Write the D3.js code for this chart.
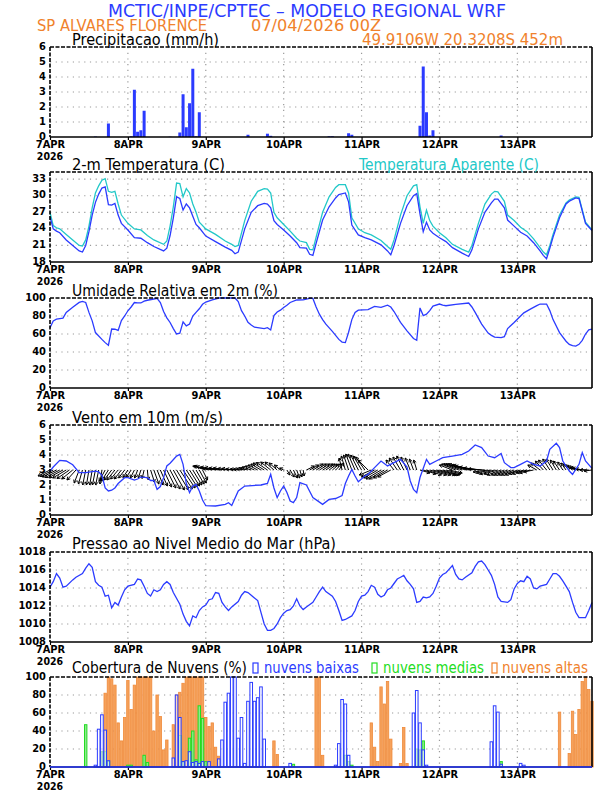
<!DOCTYPE html>
<html>
<head>
<meta charset="utf-8">
<script src="https://cdnjs.cloudflare.com/ajax/libs/d3/7.8.5/d3.min.js"></script>
<style>
body { margin: 0; background: #fff; }
svg text { font-family: "DejaVu Sans", sans-serif; }
.tick text { font-family: "DejaVu Sans Condensed", "DejaVu Sans", sans-serif; font-weight: bold; font-size: 11px; fill: #000; }
</style>
</head>
<body>
<script>
var width = 612;
var height = 792;

// ---- data (hours since 07APR2026 00Z) ----
var dayLabels = ["7APR", "8APR", "9APR", "10APR", "11APR", "12APR", "13APR"];
var dayHours = [0, 24, 48, 72, 96, 120, 144];
var yearLabel = "2026";

var precip = [[14,0.03],[18,0.9],[25,0.05],[26,3.15],[27,0.35],[28,0.45],[29,1.75],[37,0.02],[40,0.3],[41,2.85],[42,0.65],[43,2.25],[44,4.55],[45,0.05],[46,1.65],[61,0.15],[67,0.22],[68,0.08],[86,0.05],[87,0.05],[92,0.25],[93,0.15],[114,0.75],[115,4.7],[116,1.65],[117,0.1],[118,0.45],[139,0.1]];
var precipTicks = [0, 1, 2, 3, 4, 5, 6];

var temp2m = [[0,26.2],[1,24.0],[2,23.6],[3,23.3],[5,22.0],[7,21.0],[9,20.0],[10,19.8],[11,21.0],[12,23.5],[13,26.5],[14,28.8],[15,30.3],[16,31.4],[17,31.6],[18,28.4],[19,28.3],[20,28.6],[21,26.5],[22,25.0],[24,23.8],[26,22.4],[28,22.3],[30,21.5],[32,20.8],[35,20.0],[36,20.5],[37,22.8],[38,26.0],[39,29.8],[40,29.5],[41,27.4],[42,28.5],[43,27.8],[44,26.3],[45,24.8],[46,24.2],[48,22.7],[51,21.7],[54,20.7],[56,20.1],[57,19.5],[58,19.8],[60,24.0],[62,27.0],[64,28.2],[66,28.6],[67,28.5],[68,27.8],[69,25.5],[70,24.8],[72,23.8],[74,22.7],[76,21.5],[77,20.6],[79,20.5],[80,19.4],[81,19.2],[82,21.4],[84,25.6],[86,28.0],[88,29.6],[89,30.2],[91,30.5],[92,28.9],[93,24.7],[95,22.9],[97,22.4],[99,22.0],[102,21.1],[104,20.0],[105,19.3],[106,21.0],[108,25.0],[110,28.2],[112,30.0],[113,30.4],[114,26.7],[115,23.5],[116,25.2],[117,23.8],[118,23.2],[120,22.4],[122,21.7],[124,20.6],[127,19.6],[129,19.0],[130,20.2],[132,24.0],[134,27.0],[136,28.7],[137,29.4],[138,29.4],[140,27.8],[141,25.6],[143,24.5],[145,23.4],[147,22.7],[149,21.5],[151,20.0],[152,19.2],[153,18.6],[154,20.5],[155,22.5],[157,26.0],[159,28.5],[160,29.0],[162,29.6],[163,29.5],[165,25.0],[167,23.7]];
var tempApp = [[0,27.0],[1,24.6],[2,24.2],[3,24.0],[5,23.0],[7,22.0],[9,21.0],[10,20.9],[11,22.0],[12,24.5],[13,27.8],[14,30.5],[15,31.8],[16,32.8],[17,33.1],[18,30.8],[19,30.6],[20,30.8],[21,28.5],[22,26.5],[24,25.0],[26,24.0],[28,23.8],[30,22.8],[32,22.0],[35,21.2],[36,21.8],[37,24.5],[38,28.0],[39,32.3],[40,32.2],[41,29.8],[42,31.3],[43,30.5],[44,28.5],[45,27.0],[46,25.2],[48,24.0],[51,23.0],[54,21.8],[56,21.2],[57,20.8],[58,21.0],[60,25.5],[62,29.0],[64,30.8],[66,31.3],[67,31.2],[68,30.5],[69,27.0],[70,26.0],[72,24.8],[74,23.6],[76,22.3],[77,21.8],[79,21.5],[80,20.3],[81,20.2],[82,22.5],[84,27.0],[86,29.8],[88,31.5],[89,32.0],[91,32.0],[92,30.5],[93,26.0],[95,24.0],[97,23.3],[99,22.9],[102,21.9],[104,20.8],[105,20.3],[106,22.0],[108,26.5],[110,30.0],[112,31.8],[113,32.0],[114,28.0],[115,25.0],[116,27.4],[117,25.5],[118,24.5],[120,23.3],[122,22.4],[124,21.2],[127,20.3],[129,19.8],[130,21.0],[132,25.0],[134,28.5],[136,30.3],[137,30.8],[138,30.7],[140,29.0],[141,26.5],[143,25.5],[145,24.3],[147,23.5],[149,22.2],[151,20.6],[152,19.8],[153,19.3],[154,21.0],[155,23.0],[157,26.5],[159,28.7],[160,29.2],[162,29.8],[163,29.7],[165,25.2],[167,23.8]];
var tempTicks = [18, 21, 24, 27, 30, 33];

var humidity = [[0,67],[1,74.6],[2,76.5],[4,77.6],[5,84],[7,89.6],[9,95.1],[10,96.3],[11,95],[12,84],[13,74.6],[14,61.6],[16,54],[17,50.4],[18,47.5],[19,65.5],[20,65.3],[21,64],[22,75],[23,80],[24,85.8],[25,90],[26,95],[27,94.5],[28,94.5],[29,96.5],[30,97.5],[32,98.9],[33,99.6],[34,95],[35,85],[36,78],[37,72.8],[38,66],[39,60],[40,61],[41,73.5],[42,69],[43,71],[44,80],[45,84],[46,88],[47,93],[48,95.5],[50,98],[52,100],[57,100],[58,96],[59,86],[60,80],[61,73],[62,70],[63,67.5],[65,66.5],[66,66],[67,67],[68,64.5],[69,80.5],[70,84.5],[71,86.5],[72,89.5],[73,92],[74,95],[76,97.8],[78,98],[80,99.6],[81,99.5],[82,90],[83,82],[84,76],[85,70.9],[87,63],[89,54],[90,51],[91,50.4],[92,62],[93,76],[94,84],[95,86.5],[98,87],[100,90.7],[102,89.6],[104,92],[105,90],[106,85],[108,73],[110,63.5],[112,55],[113,53],[114,89],[115,80.5],[116,82],[117,86],[118,91],[120,93.3],[121,92],[122,91.4],[125,93],[129,94.4],[130,90],[131,84],[133,71],[135,61],[136,58.5],[137,56.5],[139,56],[140,57],[141,66],[143,72.8],[145,80],[146,83.5],[148,87.7],[150,91.5],[151,93.3],[153,93.3],[154,86],[155,76],[157,61.5],[159,52],[160,48.5],[161,47],[162,46.6],[163,48.5],[164,53],[165,60],[166,64.5],[167,65.3]];
var humTicks = [0, 20, 40, 60, 80, 100];

var windSpeed = [[0,2.93],[1,3.2],[3,3.64],[5,3.6],[7,3.35],[9,2.82],[11,2.82],[14,2.93],[15,2.87],[16,2.65],[17,1.8],[18,1.6],[19,1.65],[20,1.8],[21,2.1],[23,2.49],[24,2.49],[26,2.33],[27,2.4],[28,2.53],[30,2.49],[31,2.3],[32,2.3],[33,1.71],[34,1.9],[35,2.49],[36,3.27],[37,3.45],[39,3.93],[40,4.04],[41,3.38],[42,2.1],[43,1.49],[44,1.93],[45,2.04],[46,1.6],[47,1.0],[48,0.62],[51,0.6],[54,0.71],[55,0.82],[56,0.64],[58,1.6],[60,1.93],[65,2.0],[67,2.1],[68,2.71],[69,1.8],[70,1.16],[71,1.6],[72,1.93],[73,1.5],[74,0.93],[75,0.82],[76,1.16],[77,2.16],[79,2.0],[81,1.16],[84,0.71],[86,1.04],[88,1.1],[90,1.3],[91,2.1],[92,2.6],[93,3.04],[94,2.6],[95,2.22],[97,2.6],[98,2.71],[100,3.16],[102,3.6],[104,3.27],[106,3.49],[108,3.71],[110,3.2],[111,2.27],[112,1.71],[113,1.49],[114,2.5],[116,3.71],[117,3.38],[119,3.6],[121,3.82],[124,3.93],[127,4.04],[129,4.27],[131,4.67],[133,4.49],[135,3.93],[137,3.82],[139,4.1],[140,3.49],[142,3.16],[143,3.16],[145,3.38],[147,3.6],[149,3.38],[151,3.27],[153,3.6],[154,4.38],[156,4.78],[157,4.49],[158,3.6],[160,2.93],[161,2.71],[163,3.38],[164,4.16],[165,3.6],[167,3.11]];
// hourly wind vector components (u east, v north), hours 0..167
var windU = [-2.4,-2.6,-2.8,-2.9,-2.8,-2.7,-2.5,-2.2,-1.8,
  -1.0,-0.8,-0.6,-0.5,-0.5,-0.6,-0.6,-0.4,
  -1.2,-1.4,-1.5,-1.6,-1.5,-1.4,-1.2,
  -1.0,-1.0,-0.8,-0.6,-0.5,-0.4,0.2,
  0.8,1.0,1.2,1.4,1.6,1.8,2.0,2.2,2.4,2.5,2.4,2.2,2.0,1.8,1.6,1.4,
  1.0,
  -2.6,-3.0,-3.2,-3.0,-2.8,-2.6,-2.4,-2.2,-2.0,
  -1.8,-1.6,-1.6,-1.6,-1.7,-1.8,-1.8,-1.9,
  -2.0,-2.2,-2.2,-2.0,-1.8,-1.6,-1.2,-0.8,
  0.6,0.8,0.8,0.6,0.4,0.2,
  1.6,1.8,2.0,2.0,2.0,2.0,1.8,1.6,1.4,1.2,1.0,
  -0.6,-0.8,-1.0,-1.2,-1.4,-1.5,-1.6,-1.8,-2.0,
  -2.4,-2.6,-2.8,-3.0,-3.0,-2.8,-2.6,
  -1.6,-1.6,-1.5,-1.4,-1.2,-1.0,-0.8,-0.6,
  2.0,2.6,3.0,3.4,3.6,3.8,3.6,3.4,3.0,2.6,
  -2.6,-2.8,-3.0,-3.2,-3.4,-3.6,-3.8,-4.0,-3.8,-3.6,-3.4,
  -3.0,-3.0,-3.0,-2.8,-2.8,-2.6,-2.6,-2.5,-2.5,-2.4,-2.4,-2.3,-2.2,-2.2,-2.0,
  -1.8,-1.8,-1.6,-1.6,-1.4,-1.4,-1.2,-1.2,-1.0,-1.0,-1.2,-1.4,-1.6,-1.8,-2.0,-2.0,-1.8,-1.6];
var windV = [-1.2,-1.3,-1.4,-1.5,-1.5,-1.6,-1.7,-1.8,-2.0,
  -2.6,-2.8,-3.0,-3.0,-3.0,-3.0,-3.0,-2.8,
  -2.2,-2.2,-2.0,-2.0,-1.8,-1.8,-1.6,
  -1.5,-1.5,-1.6,-1.6,-1.6,-1.7,-2.0,
  -2.5,-2.8,-3.0,-3.2,-3.4,-3.6,-3.8,-4.0,-4.0,-3.8,-3.6,-3.4,-3.2,-3.0,-2.8,-2.6,
  -2.0,
  0.8,0.8,0.7,0.6,0.5,0.4,0.4,0.3,0.3,
  0.2,0.2,0.2,0.3,0.4,0.6,0.8,1.0,
  1.2,1.4,1.5,1.6,1.6,1.4,1.0,0.4,
  -1.0,-1.4,-1.6,-1.6,-1.4,-1.2,
  0.8,1.0,1.2,1.2,1.2,1.2,1.2,1.2,1.2,1.2,1.4,
  2.4,2.8,3.0,3.2,3.2,3.0,2.8,2.6,2.0,
  -1.0,-1.4,-1.6,-1.8,-1.8,-1.6,-1.4,
  2.0,2.4,2.6,2.8,2.6,2.4,2.2,2.0,
  -0.6,-0.8,-1.0,-1.0,-1.0,-1.0,-1.0,-1.0,-0.8,-0.6,
  1.0,1.2,1.2,1.2,1.2,1.0,1.0,0.8,0.6,0.4,0.2,
  -0.4,-0.6,-0.8,-0.8,-1.0,-1.0,-1.0,-1.0,-1.0,-1.0,-0.8,-0.8,-0.6,-0.6,-0.4,
  1.0,1.4,1.8,2.0,2.2,2.2,2.0,1.8,1.6,1.4,1.2,1.0,0.8,0.6,0.4,0.2,0.0,-0.2];
var windTicks = [0, 1, 2, 3, 4, 5, 6];

var pressure = [[0,1014.1],[1,1014.7],[2,1015.6],[3,1015.1],[4,1014.1],[5,1014.2],[7,1014.9],[8,1015.2],[10,1015.6],[11,1016.2],[12,1016.7],[13,1016.3],[14,1014.7],[15,1014.3],[16,1014.1],[17,1013.1],[18,1013.2],[19,1011.8],[20,1012.4],[21,1012.1],[22,1013.0],[23,1013.8],[24,1014.2],[26,1014.4],[27,1015.0],[28,1014.9],[29,1014.2],[30,1013.4],[31,1013.1],[32,1013.8],[33,1013.6],[34,1013.8],[35,1014.4],[36,1014.7],[37,1014.4],[38,1013.5],[40,1012.2],[41,1011.1],[42,1010.3],[43,1009.8],[44,1010.9],[45,1010.7],[46,1011.5],[47,1011.9],[48,1012.1],[49,1012.7],[50,1012.8],[51,1013.5],[52,1013.4],[53,1012.4],[54,1011.9],[55,1011.5],[56,1011.9],[58,1012.5],[59,1013.2],[60,1013.6],[61,1013.5],[62,1013.2],[63,1012.9],[64,1012.6],[65,1011.3],[66,1010.0],[67,1009.3],[68,1009.3],[69,1009.5],[70,1010.0],[71,1010.7],[72,1011.2],[73,1011.5],[74,1011.6],[75,1012.0],[76,1012.8],[77,1012.0],[78,1011.6],[79,1011.9],[81,1012.4],[82,1013.0],[83,1013.6],[84,1014.1],[85,1013.6],[87,1013.1],[88,1012.5],[89,1011.5],[90,1010.4],[91,1010.5],[93,1010.9],[94,1011.5],[95,1012.5],[96,1013.1],[97,1013.2],[98,1013.6],[99,1014.3],[100,1014.1],[101,1013.3],[102,1013.0],[103,1013.2],[104,1013.8],[105,1014.0],[106,1014.5],[107,1015.0],[108,1015.2],[109,1015.4],[110,1014.8],[111,1014.4],[112,1013.9],[113,1012.4],[114,1012.5],[115,1013.0],[116,1012.9],[117,1013.0],[118,1013.4],[119,1014.2],[120,1015.1],[121,1015.5],[122,1015.7],[123,1016.1],[124,1016.5],[125,1015.5],[126,1015.0],[127,1014.9],[128,1015.2],[130,1015.7],[131,1016.4],[132,1016.9],[133,1017.0],[134,1016.6],[135,1016.0],[136,1015.4],[137,1014.4],[138,1013.0],[139,1012.5],[141,1012.4],[142,1012.7],[143,1013.9],[144,1014.5],[145,1014.8],[146,1014.7],[147,1015.3],[148,1015.0],[149,1014.0],[150,1013.9],[151,1014.2],[153,1014.4],[154,1015.0],[155,1015.6],[156,1015.6],[157,1015.3],[158,1014.8],[159,1014.2],[160,1013.6],[161,1012.4],[162,1011.3],[163,1010.7],[165,1010.7],[166,1011.5],[167,1012.4]];
var presTicks = [1008, 1010, 1012, 1014, 1016, 1018];

var cloudHigh = [[17,82],[18,100],[19,98],[20,91],[21,49],[22,29],[23,55],[24,96],[25,64],[26,91],[27,100],[28,100],[29,100],[30,100],[31,100],[32,40],[33,80],[34,56],[35,19],[36,30],[38,47],[39,80],[40,83],[41,93],[42,100],[43,100],[44,100],[45,100],[46,100],[47,100],[48,55],[49,45],[50,49],[51,22],[52,12],[69,29],[70,14],[82,100],[83,100],[84,13],[99,49],[100,22],[101,6],[102,89],[103,70],[104,95],[105,31],[108,4],[109,44],[110,4],[157,61],[160,15],[161,62],[162,36],[163,64],[164,95],[165,100],[166,86],[167,73]];
var cloudMid = [[11,47],[16,17],[17,17],[18,6],[24,2],[25,2],[29,13],[30,5],[40,35],[41,6],[43,32],[44,40],[45,8],[46,68],[47,54],[48,6],[75,3],[91,13],[92,6],[93,2],[113,20],[114,19],[115,29],[139,6]];
var cloudLow = [[14,2],[15,42],[16,58],[17,41],[18,7],[38,10],[39,80],[40,55],[41,6],[42,7],[43,17],[44,5],[45,6],[46,4],[47,6],[49,6],[52,9],[53,30],[54,72],[55,82],[56,100],[57,100],[58,32],[59,55],[60,4],[61,73],[62,94],[63,73],[64,77],[65,89],[66,31],[74,4],[88,2],[89,26],[90,75],[91,70],[92,13],[112,60],[113,85],[114,49],[115,19],[116,2],[136,28],[137,68],[138,61],[139,3],[145,4],[146,2]];
var cloudTicks = [0, 20, 40, 60, 80, 100];

// ---- colours ----
var blue = "#2b3bff";
var cyan = "#22c8c8";
var orange = "#f0822c";
var green = "#22dd22";

var svg = d3.select("body").append("svg")
    .attr("width", width)
    .attr("height", height);

var x = d3.scaleLinear().domain([0, 167]).range([50, 592]);
var panelH = 90;

function panel(top, domain, ticks) {
    var y = d3.scaleLinear().domain(domain).range([top + panelH, top]);
    var g = svg.append("g");

    // dotted grid
    g.selectAll(".hgrid").data(ticks.filter(function(t) { return t > domain[0] && t < domain[1]; }))
        .enter().append("line")
        .attr("x1", x(0)).attr("x2", x(167))
        .attr("y1", function(d) { return y(d); }).attr("y2", function(d) { return y(d); })
        .attr("stroke", "#9a9a9a").attr("stroke-width", 1.2)
        .attr("stroke-dasharray", "1.2,4.5");
    g.selectAll(".vgrid").data(dayHours.slice(1))
        .enter().append("line")
        .attr("x1", function(d) { return x(d); }).attr("x2", function(d) { return x(d); })
        .attr("y1", top).attr("y2", top + panelH)
        .attr("stroke", "#9a9a9a").attr("stroke-width", 1.2)
        .attr("stroke-dasharray", "1.2,4.5");

    // axes
    var ya = svg.append("g")
        .attr("transform", "translate(" + (x(0) - 1) + ",-1.5)")
        .call(d3.axisLeft(y).tickValues(ticks).tickSize(0).tickPadding(3).tickFormat(d3.format("d")));
    ya.select(".domain").remove();

    var xa = svg.append("g")
        .attr("transform", "translate(0," + (top + panelH) + ")")
        .call(d3.axisBottom(x).tickValues(dayHours).tickSize(3).tickPadding(0.5)
            .tickFormat(function(d, i) { return dayLabels[i]; }));
    xa.select(".domain").remove();
    xa.selectAll("line").attr("stroke", "#000").attr("stroke-width", 1.2);
    svg.append("text")
        .attr("x", x(0)).attr("y", top + panelH + 22.5)
        .attr("text-anchor", "middle")
        .style("font-family", "'DejaVu Sans Condensed', 'DejaVu Sans', sans-serif")
        .style("font-weight", "bold").style("font-size", "10.5px")
        .text(yearLabel);

    return { y: y, top: top, g: g };
}

function frame(top) {
    var l = x(0), r = x(167), b = top + panelH;
    svg.append("line").attr("x1", l).attr("x2", r).attr("y1", top).attr("y2", top)
        .attr("stroke", "#000").attr("stroke-width", 1.6).attr("stroke-dasharray", "4,1.5");
    svg.append("line").attr("x1", l).attr("x2", l).attr("y1", top).attr("y2", b)
        .attr("stroke", "#000").attr("stroke-width", 1.6).attr("stroke-dasharray", "4,1.5");
    svg.append("line").attr("x1", r).attr("x2", r).attr("y1", top).attr("y2", b)
        .attr("stroke", "#000").attr("stroke-width", 1.6);
    svg.append("line").attr("x1", l).attr("x2", r).attr("y1", b).attr("y2", b)
        .attr("stroke", "#000").attr("stroke-width", 1.6);
}

function label(txt, x0, y0, w, size, color) {
    svg.append("text")
        .attr("x", x0).attr("y", y0)
        .attr("textLength", w).attr("lengthAdjust", "spacingAndGlyphs")
        .style("font-size", size + "px")
        .attr("fill", color)
        .text(txt);
}

var line = function(y) {
    return d3.line().x(function(d) { return x(d[0]); }).y(function(d) { return y(d[1]); });
};

// ---- header ----
label("MCTIC/INPE/CPTEC \u2013 MODELO REGIONAL WRF", 108, 17, 398, 17, blue);
label("SP ALVARES FLORENCE", 37, 31, 170, 16, orange);
label("07/04/2026 00Z", 251, 31, 130, 16, orange);
label("49.9106W 20.3208S 452m", 362, 45, 201, 16, orange);

// ---- precipitation ----
var p1 = panel(47, [0, 6], precipTicks);
p1.g.selectAll(".pbar").data(precip).enter().append("rect")
    .attr("x", function(d) { return x(d[0]) - 1.5; })
    .attr("width", 3)
    .attr("y", function(d) { return p1.y(d[1]); })
    .attr("height", function(d) { return p1.y(0) - p1.y(d[1]); })
    .attr("fill", blue);
frame(47);
label("Precipitacao (mm/h)", 72, 45, 147, 15, "#000");

// ---- temperature ----
var p2 = panel(172, [18, 34.3], tempTicks);
p2.g.append("path").datum(tempApp).attr("d", line(p2.y))
    .attr("fill", "none").attr("stroke", cyan).attr("stroke-width", 1.3);
p2.g.append("path").datum(temp2m).attr("d", line(p2.y))
    .attr("fill", "none").attr("stroke", blue).attr("stroke-width", 1.3);
frame(172);
label("2-m Temperatura (C)", 72, 170, 153, 15, "#000");
label("Temperatura Aparente (C)", 359, 170, 180, 15, cyan);

// ---- humidity ----
var p3 = panel(298, [0, 100], humTicks);
p3.g.append("path").datum(humidity).attr("d", line(p3.y))
    .attr("fill", "none").attr("stroke", blue).attr("stroke-width", 1.3);
frame(298);
label("Umidade Relativa em 2m (%)", 72, 296, 206, 15, "#000");

// ---- wind ----
var p4 = panel(425, [0, 6], windTicks);
var k = 5;
var base = p4.y(3);
var arrows = p4.g.append("g").attr("stroke", "#000").attr("stroke-width", 1).attr("fill", "none");
windU.forEach(function(u, i) {
    var v = windV[i];
    var x0 = x(i), y0 = base;
    var x1 = x0 + u * k, y1 = y0 - v * k;
    var a = Math.atan2(y1 - y0, x1 - x0);
    var hl = 3.5;
    arrows.append("path")
        .attr("d", "M" + x0 + "," + y0 + "L" + x1 + "," + y1 +
            "M" + (x1 - hl * Math.cos(a - 0.5)) + "," + (y1 - hl * Math.sin(a - 0.5)) +
            "L" + x1 + "," + y1 +
            "L" + (x1 - hl * Math.cos(a + 0.5)) + "," + (y1 - hl * Math.sin(a + 0.5)));
});
p4.g.append("path").datum(windSpeed).attr("d", line(p4.y))
    .attr("fill", "none").attr("stroke", blue).attr("stroke-width", 1.3);
frame(425);
label("Vento em 10m (m/s)", 72, 423, 151, 15, "#000");

// ---- pressure ----
var p5 = panel(552, [1008, 1018], presTicks);
p5.g.append("path").datum(pressure).attr("d", line(p5.y))
    .attr("fill", "none").attr("stroke", blue).attr("stroke-width", 1.3);
frame(552);
label("Pressao ao Nivel Medio do Mar (hPa)", 72, 549, 264, 15, "#000");

// ---- clouds ----
var p6 = panel(677, [0, 100], cloudTicks);
p6.g.selectAll(".hi").data(cloudHigh).enter().append("rect")
    .attr("x", function(d) { return x(d[0]) - 1.2; })
    .attr("width", 2.4)
    .attr("y", function(d) { return p6.y(d[1]); })
    .attr("height", function(d) { return p6.y(0) - p6.y(d[1]); })
    .attr("fill", "#f5a25c").attr("stroke", "#f08a3a").attr("stroke-width", 0.8);
p6.g.selectAll(".mid").data(cloudMid).enter().append("rect")
    .attr("x", function(d) { return x(d[0]) - 1.2; })
    .attr("width", 2.4)
    .attr("y", function(d) { return p6.y(d[1]); })
    .attr("height", function(d) { return p6.y(0) - p6.y(d[1]); })
    .attr("fill", "#8ee88e").attr("stroke", green).attr("stroke-width", 1);
p6.g.selectAll(".low").data(cloudLow).enter().append("rect")
    .attr("x", function(d) { return x(d[0]) - 1.3; })
    .attr("width", 2.6)
    .attr("y", function(d) { return p6.y(d[1]); })
    .attr("height", function(d) { return p6.y(0) - p6.y(d[1]); })
    .attr("fill", "#fff").attr("fill-opacity", 0.6).attr("stroke", blue).attr("stroke-width", 1);
frame(677);
svg.append("line").attr("x1", x(0)).attr("x2", x(167)).attr("y1", p6.y(0)).attr("y2", p6.y(0))
    .attr("stroke", blue).attr("stroke-width", 1.6);
label("Cobertura de Nuvens (%)", 72, 673, 175, 15, "#000");
svg.append("rect").attr("x", 253).attr("y", 663).attr("width", 5).attr("height", 10)
    .attr("fill", "none").attr("stroke", blue).attr("stroke-width", 1.2);
label("nuvens baixas", 264, 673, 95, 15, blue);
svg.append("rect").attr("x", 372).attr("y", 663).attr("width", 5).attr("height", 10)
    .attr("fill", "none").attr("stroke", green).attr("stroke-width", 1.2);
label("nuvens medias", 383, 673, 101, 15, green);
svg.append("rect").attr("x", 492).attr("y", 663).attr("width", 5).attr("height", 10)
    .attr("fill", "none").attr("stroke", orange).attr("stroke-width", 1.2);
label("nuvens altas", 502, 673, 86, 15, orange);
</script>
</body>
</html>
